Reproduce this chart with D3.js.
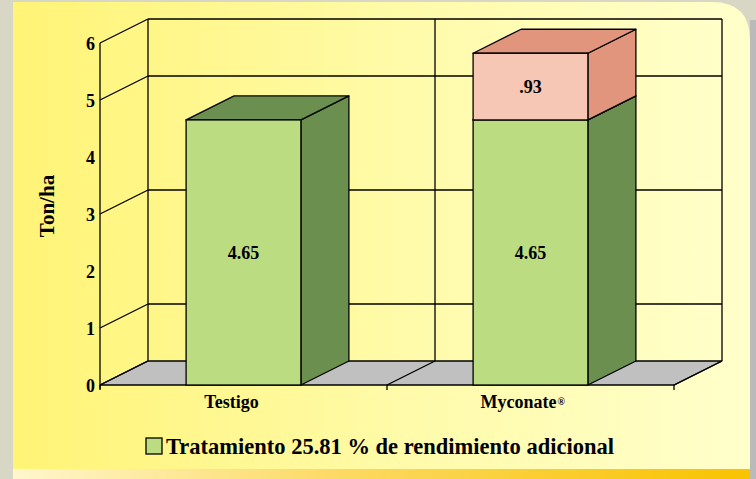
<!DOCTYPE html>
<html>
<head>
<meta charset="utf-8">
<script src="https://cdn.jsdelivr.net/npm/d3@7/dist/d3.min.js"></script>
<style>
  body { margin: 0; background: #d8d6c4; }
  svg { display: block; }
  text { font-family: "Liberation Serif", "Times New Roman", serif; font-weight: bold; fill: #000; }
</style>
</head>
<body>
<div id="chart"></div>
<script>
// data
const categories = ["Testigo", "Myconate"]
const baseValues = [4.65, 4.65]
const extraValues = [0, 1.17]
const baseLabels = ["4.65", "4.65"]
const extraLabels = ["", ".93"]
const yTicks = [0, 1, 2, 3, 4, 5, 6]
const gridTicks = [1, 3, 5]
const legendText = "Tratamiento 25.81 % de rendimiento adicional"

const W = 756, H = 479
const DX = 48, DY = 24   // depth of the 3d box

const svg = d3.select("#chart").append("svg")
  .attr("width", W)
  .attr("height", H)

const defs = svg.append("defs")
const bg = defs.append("linearGradient").attr("id", "bg")
bg.append("stop").attr("offset", "0%").attr("stop-color", "#fff476")
bg.append("stop").attr("offset", "55%").attr("stop-color", "#fffbab")
bg.append("stop").attr("offset", "100%").attr("stop-color", "#ffffcb")
const strip = defs.append("linearGradient").attr("id", "strip")
strip.append("stop").attr("offset", "0%").attr("stop-color", "#fff6cc")
strip.append("stop").attr("offset", "45%").attr("stop-color", "#fcd962")
strip.append("stop").attr("offset", "100%").attr("stop-color", "#f8c300")

// panel with rounded top right corner
const px0 = 13, py0 = 2, px1 = 750, r = 38
svg.append("rect").attr("x", px1).attr("y", 20).attr("width", W - px1).attr("height", H - 20).attr("fill", "#bababa")
svg.append("path")
  .attr("d", `M${px0},${py0} H${px1 - r} Q${px1},${py0} ${px1},${py0 + r} V${H} H${px0} Z`)
  .attr("fill", "url(#bg)")
svg.append("rect").attr("x", px0).attr("y", 469).attr("width", px1 - px0).attr("height", H - 469).attr("fill", "url(#strip)")

// scales
const x = d3.scaleBand()
  .domain(categories)
  .range([100, 674])
  .paddingInner(0.6)
  .paddingOuter(0.3)

const y = d3.scaleLinear()
  .domain([0, 6])
  .range([385, 43])

const x0 = x.range()[0], x1 = x.range()[1]
const step = x.step()
const bounds = d3.range(categories.length + 1).map(i => x0 + i * step)

const g = svg.append("g")
const line = (a, b, c, d) => g.append("line")
  .attr("x1", a).attr("y1", b).attr("x2", c).attr("y2", d)
  .attr("stroke", "#000").attr("stroke-width", 1.3)

// floor
g.append("path")
  .attr("d", `M${x0},${y(0)} L${x1},${y(0)} L${x1 + DX},${y(0) - DY} L${x0 + DX},${y(0) - DY} Z`)
  .attr("fill", "#c0c0c0")
  .attr("stroke", "#000").attr("stroke-width", 1.3)
bounds.forEach(b => {
  line(b, y(0), b + DX, y(0) - DY)
  line(b, y(0), b, y(0) + 5)
})

// back wall
line(x0 + DX, y(6) - DY, x1 + DX, y(6) - DY)
line(x0 + DX, y(6) - DY, x0 + DX, y(0) - DY)
line(x1 + DX, y(6) - DY, x1 + DX, y(0) - DY)
bounds.slice(1, -1).forEach(b => line(b + DX, y(6) - DY, b + DX, y(0) - DY))
gridTicks.forEach(t => {
  line(x0 + DX, y(t) - DY, x1 + DX, y(t) - DY)
  line(x0, y(t), x0 + DX, y(t) - DY)
})

// side wall
line(x0, y(6), x0 + DX, y(6) - DY)
line(x0, y(6), x0, y(0) + 4)

// y tick labels
g.selectAll(".ytick").data(yTicks).enter().append("text")
  .attr("class", "ytick")
  .attr("x", 95)
  .attr("y", d => y(d) + 1)
  .attr("dy", "0.35em")
  .attr("text-anchor", "end")
  .style("font-size", "18px")
  .text(d => d)

svg.append("text")
  .attr("transform", `translate(54,206) rotate(-90)`)
  .attr("text-anchor", "middle")
  .style("font-size", "21px")
  .text("Ton/ha")

// 3d bars
function box(xl, v0, v1, front, dark, label) {
  const xr = xl + x.bandwidth()
  const yb = y(v0), yt = y(v1)
  const bar = g.append("g")
  bar.append("path")
    .attr("d", `M${xr},${yt} L${xr + DX},${yt - DY} L${xr + DX},${yb - DY} L${xr},${yb} Z`)
    .attr("fill", dark).attr("stroke", "#000").attr("stroke-width", 1.3).attr("stroke-linejoin", "round")
  bar.append("path")
    .attr("d", `M${xl},${yt} L${xl + DX},${yt - DY} L${xr + DX},${yt - DY} L${xr},${yt} Z`)
    .attr("fill", dark).attr("stroke", "#000").attr("stroke-width", 1.3).attr("stroke-linejoin", "round")
  bar.append("rect")
    .attr("x", xl).attr("y", yt)
    .attr("width", x.bandwidth()).attr("height", yb - yt)
    .attr("fill", front).attr("stroke", "#000").attr("stroke-width", 1.3)
  if (label) {
    bar.append("text")
      .attr("x", xl + x.bandwidth() / 2)
      .attr("y", (yb + yt) / 2)
      .attr("dy", "0.35em")
      .attr("text-anchor", "middle")
      .style("font-size", "18px")
      .text(label)
  }
}

categories.forEach((c, i) => {
  box(x(c), 0, baseValues[i], "#bcdc82", "#6a8f4f", baseLabels[i])
  if (extraValues[i] > 0) {
    box(x(c), baseValues[i], baseValues[i] + extraValues[i], "#f6c7b4", "#e0957c", extraLabels[i])
  }
})

// category labels
categories.forEach((c, i) => {
  const t = svg.append("text")
    .attr("x", x(c) + x.bandwidth() / 2 - 12)
    .attr("y", 408)
    .attr("text-anchor", "middle")
    .style("font-size", "18px")
    .text(c)
  if (i === 1) {
    const box = t.node().getBBox()
    svg.append("text")
      .attr("x", box.x + box.width + 1)
      .attr("y", 405)
      .style("font-size", "10px")
      .text("®")
  }
})

// legend
const lg = svg.append("g").attr("transform", "translate(146,438)")
lg.append("rect")
  .attr("width", 16).attr("height", 16)
  .attr("fill", "#bcdc82").attr("stroke", "#000").attr("stroke-width", 1.3)
lg.append("text")
  .attr("x", 20).attr("y", 16)
  .style("font-size", "22.5px")
  .text(legendText)
</script>
</body>
</html>
